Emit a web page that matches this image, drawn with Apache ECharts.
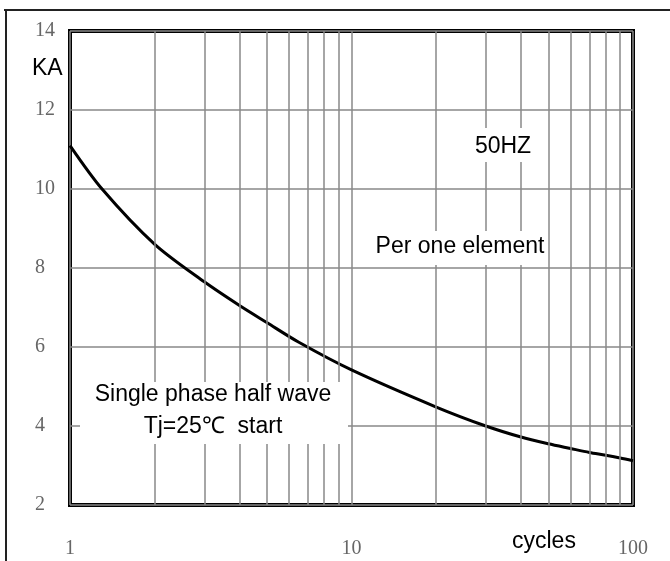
<!DOCTYPE html>
<html>
<head>
<meta charset="utf-8">
<script src="https://cdn.jsdelivr.net/npm/echarts@6/dist/echarts.min.js"></script>
<style>
  html, body { margin: 0; padding: 0; background: #fff; }
  #chart { width: 670px; height: 561px; }
</style>
</head>
<body>
<div id="chart"></div>
<script>
// curve (cycles -> KA)
var cycles = [1, 1.3, 2, 3, 4, 5, 6.5, 10, 20, 30, 40, 50, 60, 70, 80, 90, 100];
var peakKA = [11.1, 10.0, 8.6, 7.65, 7.05, 6.62, 6.12, 5.42, 4.48, 4.0, 3.72, 3.55, 3.43, 3.33, 3.26, 3.19, 3.12];
// log grid lines between the decades
var minorX = [2, 3, 4, 5, 6, 7, 8, 9, 20, 30, 40, 50, 60, 70, 80, 90];

var myChart = echarts.init(document.getElementById('chart'));

var curve = [];
for (var i = 0; i < cycles.length; i++) {
  curve.push([cycles[i], peakKA[i]]);
}
var vlines = [];
for (var j = 0; j < minorX.length; j++) {
  vlines.push({ xAxis: minorX[j] });
}

var txt = function (s, x, y, align) {
  return {
    type: 'text', z: 11,
    style: {
      text: s, x: x, y: y,
      font: '23px "Liberation Sans", Arial, sans-serif',
      fill: '#000', align: align || 'center', verticalAlign: 'middle'
    }
  };
};
var box = function (x, y, w, h) {
  return { type: 'rect', z: 10, shape: { x: x, y: y, width: w, height: h }, style: { fill: '#fff' } };
};

var option = {
  animation: false,
  backgroundColor: '#fff',
  grid: {
    left: 70, right: 37, top: 31, bottom: 56,
    show: true, borderColor: '#000', borderWidth: 4
  },
  xAxis: {
    type: 'log', logBase: 10, min: 1, max: 100,
    axisLine: { show: false },
    axisTick: { show: false },
    axisLabel: {
      margin: 34,
      color: '#666',
      fontFamily: '"Liberation Serif", serif',
      fontSize: 20
    },
    splitLine: { show: true, lineStyle: { color: '#888', width: 1.5 } }
  },
  yAxis: {
    type: 'value', min: 2, max: 14, interval: 2,
    axisLine: { show: false },
    axisTick: { show: false },
    axisLabel: {
      margin: 35,
      align: 'left',
      padding: [8, 0, 0, 0],
      color: '#666',
      fontFamily: '"Liberation Serif", serif',
      fontSize: 20
    },
    splitLine: { show: true, lineStyle: { color: '#888', width: 1.5 } }
  },
  series: [{
    type: 'line',
    data: curve,
    smooth: 0.3,
    symbol: 'none',
    lineStyle: { color: '#000', width: 3 },
    markLine: {
      silent: true,
      symbol: 'none',
      label: { show: false },
      lineStyle: { color: '#888', width: 1.5, type: 'solid' },
      data: vlines
    }
  }],
  graphic: [
    // outer frame
    { type: 'line', shape: { x1: 4, y1: 10, x2: 670, y2: 10 }, style: { stroke: '#222', lineWidth: 2 } },
    { type: 'line', shape: { x1: 6, y1: 10, x2: 6, y2: 561 }, style: { stroke: '#222', lineWidth: 2 } },
    txt('KA', 32, 69, 'left'),
    txt('cycles', 512, 542, 'left'),
    box(465, 128, 80, 34),
    txt('50HZ', 503, 147),
    box(362, 231, 186, 34),
    txt('Per one element', 460, 247),
    box(80, 382, 268, 62),
    txt('Single phase half wave', 213, 395),
    txt('Tj=25\u2103  start', 213, 427)
  ]
};

myChart.setOption(option);
</script>
</body>
</html>
